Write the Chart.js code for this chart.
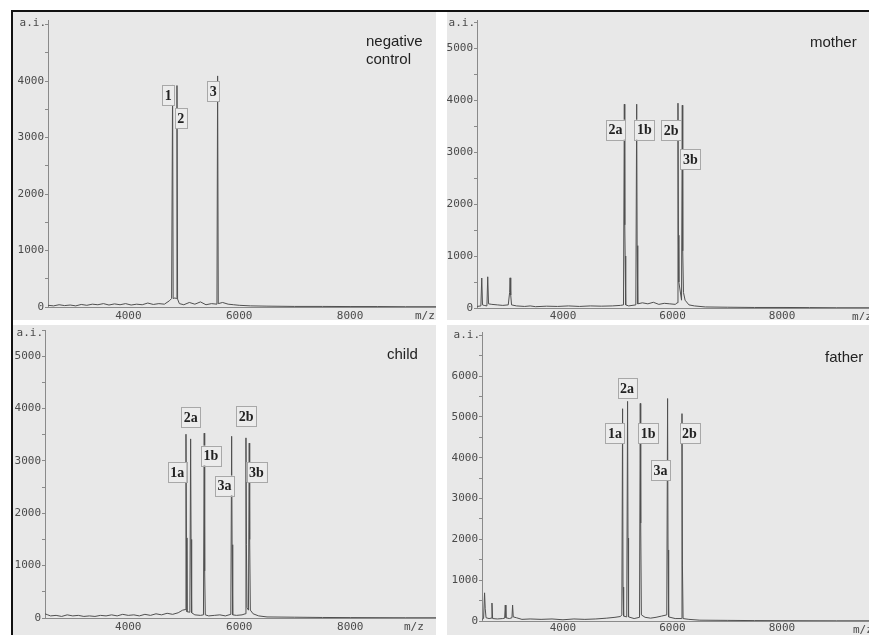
<!DOCTYPE html>
<html>
<head>
<meta charset="utf-8">
<script src="https://cdn.jsdelivr.net/npm/chart.js@4.4.0/dist/chart.umd.min.js"></script>
<style>
  body { margin: 0; background: #fff; }
  #page { position: relative; width: 869px; height: 635px; overflow: hidden; background: #fff; }
  #page canvas { position: absolute; }
  .rule { position: absolute; background: #111; }
</style>
</head>
<body>
<div id="page">
  <canvas id="controlChart" width="423" height="308" style="left:13px;top:12px"></canvas>
  <canvas id="motherChart" width="422" height="308" style="left:447px;top:12px"></canvas>
  <canvas id="childChart" width="423" height="310" style="left:13px;top:325px"></canvas>
  <canvas id="fatherChart" width="422" height="310" style="left:447px;top:325px"></canvas>
  <div class="rule" style="left:11px;top:10px;width:858px;height:2px"></div>
  <div class="rule" style="left:11px;top:10px;width:2px;height:625px"></div>
</div>
<script>
// shared x tick labels (m/z)
const xTicks = [4000, 6000, 8000];

// negative control
const controlMz = [2550, 2650, 2750, 2850, 2950, 3050, 3150, 3250, 3350, 3450, 3550, 3650, 3750, 3850, 3950, 4050, 4150, 4250, 4350, 4450, 4550, 4650, 4740, 4780, 4798, 4808, 4840, 4866, 4877, 4888, 4920, 5000, 5100, 5200, 5300, 5400, 5500, 5598, 5610, 5622, 5700, 5800, 5900, 6000, 6200, 6500, 7000, 7500, 8000, 8500, 9000, 9550];
const controlAi = [30, 20, 40, 25, 35, 20, 45, 30, 50, 40, 60, 35, 55, 40, 60, 35, 50, 40, 70, 45, 60, 50, 110, 150, 3930, 150, 160, 150, 3920, 140, 60, 40, 80, 50, 90, 40, 60, 50, 4090, 60, 80, 50, 40, 30, 20, 15, 10, 10, 8, 8, 5, 5];
const controlLabels = ['1', '2', '3'];
const controlLabelMz = [4721, 4946, 5532];
const controlLabelAi = [3752, 3345, 3823];
const controlYTicks = [0, 1000, 2000, 3000, 4000];

// mother
const motherMz = [2430, 2500, 2516, 2530, 2560, 2610, 2625, 2640, 2700, 2800, 2900, 3000, 3025, 3033, 3045, 3060, 3150, 3300, 3400, 3500, 3700, 3900, 4100, 4300, 4500, 4700, 4900, 5050, 5105, 5120, 5128, 5135, 5145, 5200, 5330, 5346, 5354, 5365, 5450, 5550, 5650, 5750, 5850, 5950, 6050, 6085, 6100, 6108, 6116, 6165, 6179, 6187, 6200, 6230, 6300, 6400, 6600, 7000, 7500, 8000, 8500, 9000, 9600];
const motherAi = [30, 40, 577, 60, 50, 40, 600, 80, 70, 60, 50, 60, 300, 580, 250, 60, 40, 30, 40, 25, 35, 30, 40, 30, 40, 35, 40, 50, 60, 3920, 1600, 1000, 60, 40, 60, 3920, 1200, 80, 100, 80, 110, 70, 90, 80, 70, 100, 3940, 1400, 500, 150, 3900, 1100, 300, 150, 60, 40, 20, 15, 10, 10, 8, 5, 5];
const motherLabels = ['2a', '1b', '2b', '3b'];
const motherLabelMz = [4961, 5485, 5973, 6325];
const motherLabelAi = [3429, 3429, 3417, 2865];
const motherYTicks = [0, 1000, 2000, 3000, 4000, 5000];

// child
const childMz = [2500, 2550, 2600, 2700, 2800, 2900, 3000, 3100, 3200, 3300, 3400, 3500, 3600, 3700, 3800, 3900, 4000, 4100, 4200, 4300, 4400, 4500, 4600, 4700, 4800, 4900, 4980, 5025, 5040, 5048, 5058, 5110, 5124, 5132, 5142, 5200, 5300, 5355, 5369, 5377, 5388, 5450, 5550, 5650, 5750, 5848, 5863, 5871, 5882, 5950, 6050, 6107, 6121, 6129, 6140, 6166, 6180, 6188, 6200, 6250, 6350, 6500, 7000, 7500, 8000, 9000, 9545];
const childAi = [80, 60, 40, 50, 30, 60, 40, 50, 30, 40, 30, 50, 40, 60, 40, 70, 50, 60, 40, 70, 50, 80, 60, 90, 70, 100, 150, 160, 3510, 1530, 120, 110, 3420, 1500, 100, 60, 50, 60, 3530, 900, 60, 40, 50, 60, 40, 70, 3470, 1400, 60, 50, 60, 80, 3440, 1400, 200, 150, 3340, 1500, 150, 80, 40, 20, 15, 10, 8, 5, 5];
const childLabels = ['2a', '2b', '1b', '1a', '3a', '3b'];
const childLabelMz = [5124, 6124, 5490, 4881, 5733, 6310];
const childLabelAi = [3836, 3855, 3101, 2786, 2529, 2786];
const childYTicks = [0, 1000, 2000, 3000, 4000, 5000];

// father
const fatherMz = [2521, 2550, 2568, 2580, 2595, 2650, 2690, 2703, 2715, 2800, 2900, 2935, 2946, 2958, 3020, 3068, 3080, 3092, 3150, 3250, 3400, 3600, 3800, 4000, 4200, 4400, 4600, 4800, 4950, 5050, 5075, 5089, 5097, 5108, 5165, 5180, 5188, 5198, 5300, 5398, 5412, 5420, 5432, 5500, 5600, 5700, 5800, 5896, 5911, 5919, 5930, 6050, 6160, 6174, 6182, 6194, 6300, 6500, 7000, 7500, 8000, 9000, 9590];
const fatherAi = [40, 60, 690, 300, 80, 60, 70, 440, 60, 50, 60, 70, 390, 80, 60, 80, 390, 100, 80, 40, 50, 40, 50, 30, 50, 40, 50, 70, 90, 110, 150, 5200, 830, 120, 100, 5380, 2030, 100, 60, 90, 5330, 2400, 150, 90, 70, 90, 120, 150, 5450, 1740, 100, 60, 60, 5080, 1370, 60, 40, 20, 15, 10, 8, 5, 5];
const fatherLabels = ['2a', '1a', '1b', '2b', '3a'];
const fatherLabelMz = [5171, 4950, 5555, 6311, 5781];
const fatherLabelAi = [5707, 4597, 4597, 4597, 3698];
const fatherYTicks = [0, 1000, 2000, 3000, 4000, 5000, 6000];

const monoFont = { family: "'DejaVu Sans Mono', monospace", size: 11 };

// draws the grey panel, axis captions, titles and the peak tags
const decor = {
    id: 'decor',
    beforeDraw(chart) {
        const ctx = chart.ctx;
        ctx.save();
        ctx.fillStyle = '#e8e8e8';
        ctx.fillRect(0, 0, chart.width, chart.height);
        ctx.restore();
    },
    afterDatasetsDraw(chart, args, opts) {
        const ctx = chart.ctx;
        const area = chart.chartArea;
        const x = chart.scales.x;
        const y = chart.scales.y;
        ctx.save();

        ctx.fillStyle = '#4a4a4a';
        ctx.font = "11px 'DejaVu Sans Mono', monospace";
        ctx.textBaseline = 'middle';
        ctx.textAlign = 'right';
        ctx.fillText('a.i.', area.left - 2, area.top + 3);
        ctx.textAlign = 'left';
        ctx.fillText('m/z', chart.width - opts.mzRight, area.bottom + 9);

        ctx.fillStyle = '#222';
        ctx.font = "15px 'Liberation Sans', Arial, sans-serif";
        opts.title.forEach((line, i) => {
            ctx.fillText(line, opts.titleX, opts.titleY + i * 18);
        });

        ctx.font = "bold 14px 'Liberation Serif', 'Times New Roman', serif";
        ctx.textAlign = 'center';
        opts.tags.forEach((t, i) => {
            const px = x.getPixelForValue(opts.tagMz[i]);
            const py = y.getPixelForValue(opts.tagAi[i]);
            const w = ctx.measureText(t).width + 5;
            const h = 20;
            ctx.fillStyle = '#ececec';
            ctx.fillRect(px - w / 2, py - h / 2, w, h);
            ctx.strokeStyle = '#a8a8a8';
            ctx.lineWidth = 1;
            ctx.strokeRect(Math.round(px - w / 2) + 0.5, Math.round(py - h / 2) + 0.5, Math.round(w), h);
            ctx.fillStyle = '#222';
            ctx.fillText(t, px, py + 1);
        });
        ctx.restore();
    }
};

function spectrum(id, mz, ai, yTicks, o) {
    const points = mz.map((m, i) => ({ x: m, y: ai[i] }));
    new Chart(document.getElementById(id), {
        type: 'line',
        data: {
            datasets: [{
                data: points,
                borderColor: '#505050',
                borderWidth: 1,
                pointRadius: 0,
                tension: 0
            }]
        },
        options: {
            responsive: false,
            animation: false,
            events: [],
            layout: { padding: { top: o.top, left: 0, right: 0, bottom: 0 } },
            plugins: {
                legend: { display: false },
                tooltip: { enabled: false },
                decor: o.decor
            },
            scales: {
                x: {
                    type: 'linear',
                    min: o.xMin,
                    max: o.xMax,
                    afterBuildTicks: function(scale) {
                        scale.ticks = xTicks.map(v => ({ value: v }));
                    },
                    afterFit: function(scale) {
                        scale.height = o.xH;
                        scale.paddingLeft = 0;
                        scale.paddingRight = 0;
                    },
                    grid: { drawOnChartArea: false, drawTicks: false },
                    border: { color: '#8a8a8a', width: 1 },
                    ticks: {
                        font: monoFont,
                        color: '#4a4a4a',
                        padding: o.xPad,
                        maxRotation: 0,
                        autoSkip: false,
                        callback: v => String(v)
                    }
                },
                y: {
                    min: 0,
                    max: o.yMax,
                    // minor marks every 500, labels only on the listed values
                    afterBuildTicks: function(scale) {
                        const ticks = [];
                        for (let v = 0; v <= o.yMax; v += 500) ticks.push({ value: v });
                        scale.ticks = ticks;
                    },
                    afterFit: function(scale) {
                        scale.width = o.yW;
                        scale.paddingTop = 0;
                        scale.paddingBottom = 0;
                    },
                    grid: { drawOnChartArea: false, drawTicks: true, tickLength: 3, color: '#8a8a8a' },
                    border: { color: '#8a8a8a', width: 1 },
                    ticks: {
                        autoSkip: false,
                        font: monoFont,
                        color: '#4a4a4a',
                        padding: 1,
                        callback: v => yTicks.includes(v) ? String(v) : ''
                    }
                }
            }
        },
        plugins: [decor]
    });
}

spectrum('controlChart', controlMz, controlAi, controlYTicks, {
    xMin: 2550, xMax: 9550, yMax: 5080, top: 8, yW: 35, xH: 13, xPad: 3,
    decor: { title: ['negative', 'control'], titleX: 353, titleY: 30, mzRight: 21,
             tags: controlLabels, tagMz: controlLabelMz, tagAi: controlLabelAi }
});
spectrum('motherChart', motherMz, motherAi, motherYTicks, {
    xMin: 2429, xMax: 9589, yMax: 5540, top: 8, yW: 30, xH: 12, xPad: 2,
    decor: { title: ['mother'], titleX: 363, titleY: 31, mzRight: 17,
             tags: motherLabels, tagMz: motherLabelMz, tagAi: motherLabelAi }
});
spectrum('childChart', childMz, childAi, childYTicks, {
    xMin: 2500, xMax: 9545, yMax: 5500, top: 5, yW: 32, xH: 17, xPad: 3,
    decor: { title: ['child'], titleX: 374, titleY: 30, mzRight: 32,
             tags: childLabels, tagMz: childLabelMz, tagAi: childLabelAi }
});
spectrum('fatherChart', fatherMz, fatherAi, fatherYTicks, {
    xMin: 2521, xMax: 9590, yMax: 7080, top: 7, yW: 35, xH: 14, xPad: 1,
    decor: { title: ['father'], titleX: 378, titleY: 33, mzRight: 16,
             tags: fatherLabels, tagMz: fatherLabelMz, tagAi: fatherLabelAi }
});
</script>
</body>
</html>
